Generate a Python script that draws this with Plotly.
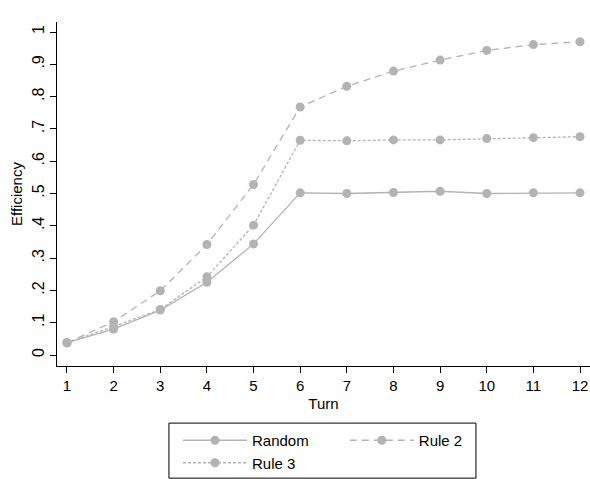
import plotly.graph_objects as go

# Efficiency by turn for three allocation rules
turns = [1, 2, 3, 4, 5, 6, 7, 8, 9, 10, 11, 12]
random_eff = [0.038, 0.080, 0.139, 0.225, 0.344, 0.502, 0.500, 0.503, 0.507, 0.500, 0.502, 0.502]
rule2_eff = [0.038, 0.103, 0.199, 0.342, 0.528, 0.768, 0.832, 0.879, 0.913, 0.943, 0.961, 0.970]
rule3_eff = [0.038, 0.088, 0.141, 0.242, 0.402, 0.665, 0.663, 0.666, 0.666, 0.670, 0.673, 0.676]

ytick_vals = [0, 0.1, 0.2, 0.3, 0.4, 0.5, 0.6, 0.7, 0.8, 0.9, 1]
ytick_text = ["0", ".1", ".2", ".3", ".4", ".5", ".6", ".7", ".8", ".9", "1"]

GRAY = "#b3b3b3"
FONT = "Liberation Sans, Arial, sans-serif"

# (name, values, dash style, legend box column)
series = [
    ("Random", random_eff, "solid", "legend"),
    ("Rule 2", rule2_eff, "7px,5px", "legend2"),
    ("Rule 3", rule3_eff, "3px,2px", "legend"),
]

fig = go.Figure()
for name, vals, dash, leg in series:
    fig.add_trace(go.Scatter(
        x=turns, y=vals, name=name, mode="lines+markers",
        line=dict(color=GRAY, width=1.3, dash=dash),
        marker=dict(color=GRAY, size=9, symbol="circle"),
        legend=leg,
    ))

legend_common = dict(
    orientation="v", yanchor="top", xanchor="left", yref="container",
    bgcolor="rgba(0,0,0,0)", borderwidth=0,
    font=dict(family=FONT, size=15, color="black"),
    traceorder="normal", itemwidth=64,
)

fig.update_layout(
    width=590, height=479,
    margin=dict(l=57, r=0, t=22, b=113),
    paper_bgcolor="white", plot_bgcolor="white",
    font=dict(family=FONT, size=14, color="black"),
    showlegend=True,
    legend=dict(x=0.227, y=1 - 424 / 479, **legend_common),
    legend2=dict(x=0.54, y=1 - 424 / 479, **legend_common),
    shapes=[dict(
        type="rect", xref="paper", yref="paper",
        x0=0.210, x1=0.786, y0=-0.326, y1=-0.166,
        line=dict(color="black", width=1), fillcolor="rgba(0,0,0,0)",
    )],
    xaxis=dict(
        range=[0.786, 12.214],
        tickmode="array", tickvals=turns, ticktext=[str(t) for t in turns],
        ticks="outside", ticklen=6, tickcolor="black", tickwidth=1,
        showline=True, linecolor="black", linewidth=1,
        showgrid=False, zeroline=False,
        title=dict(text="Turn", standoff=5, font=dict(size=15)),
        tickfont=dict(size=15),
    ),
    yaxis=dict(
        range=[-0.034, 1.031],
        tickmode="array", tickvals=ytick_vals, ticktext=ytick_text,
        tickangle=-90,
        ticks="outside", ticklen=6, tickcolor="black", tickwidth=1,
        showline=True, linecolor="black", linewidth=1,
        showgrid=False, zeroline=False,
        title=dict(text="Efficiency", standoff=3, font=dict(size=15)),
        tickfont=dict(size=16),
    ),
)

fig.write_html("out.html")
